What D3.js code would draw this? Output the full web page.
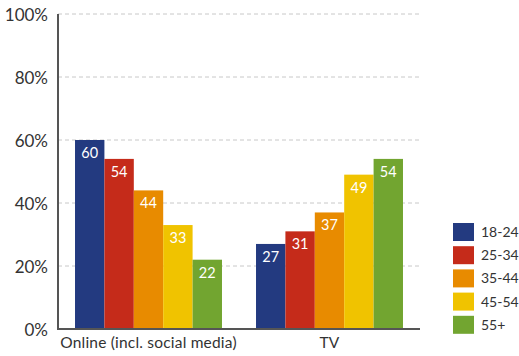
<!DOCTYPE html>
<html><head><meta charset="utf-8">
<script src="https://cdn.jsdelivr.net/npm/d3@7"></script>
<style>body{margin:0;background:#fff}svg{display:block}text{font-family:Lato,"Open Sans",sans-serif}</style>
</head><body><svg id="c" width="519" height="356"></svg>
<script>
const categories = ["Online (incl. social media)", "TV"];
const ageGroups = ["18-24", "25-34", "35-44", "45-54", "55+"];
const online = [60, 54, 44, 33, 22];
const tv = [27, 31, 37, 49, 54];
const yTicks = [0, 20, 40, 60, 80, 100];
const colors = ["#233a80", "#c52b1a", "#e88b00", "#f0c300", "#72a530"];

(function () {
const seriesByCat = [online, tv];
const data = categories.map((c, i) => ({cat: c, values: ageGroups.map((g, j) => ({g, v: seriesByCat[i][j]}))}));

const svg = d3.select("#c");
const mLeft = 58, mRight = 420, mTop = 14, mBottom = 329;
const y = d3.scaleLinear().domain([0, 100]).range([mBottom, mTop]);
const x0 = d3.scaleBand().domain(categories).range([mLeft, mRight]).paddingInner(0.188).paddingOuter(0.094);
const x1 = d3.scaleBand().domain(ageGroups).range([0, x0.bandwidth()]);
const color = d3.scaleOrdinal().domain(ageGroups).range(colors);

// grid
svg.append("g").selectAll("line").data(yTicks.filter(d => d > 0)).join("line")
  .attr("x1", mLeft).attr("x2", mRight).attr("y1", d => y(d)).attr("y2", d => y(d))
  .attr("stroke", "#c8c8c8").attr("stroke-width", 1).attr("stroke-dasharray", "4,3");

// y axis
const yAxis = svg.append("g").attr("transform", `translate(${mLeft},0)`)
  .call(d3.axisLeft(y).tickValues(yTicks).tickFormat(d => d + "%").tickSize(0).tickPadding(10));
yAxis.select(".domain").remove();
yAxis.selectAll("text").attr("font-size", 17).attr("fill", "#333").attr("dy", "0.36em");

// bars
const groups = svg.append("g").selectAll("g").data(data).join("g")
  .attr("transform", d => `translate(${x0(d.cat)},0)`);
groups.selectAll("rect").data(d => d.values).join("rect")
  .attr("x", d => x1(d.g)).attr("width", x1.bandwidth())
  .attr("y", d => y(d.v)).attr("height", d => y(0) - y(d.v))
  .attr("fill", d => color(d.g));
groups.selectAll("text").data(d => d.values).join("text")
  .attr("x", d => x1(d.g) + x1.bandwidth() / 2).attr("y", d => y(d.v) + 18)
  .attr("text-anchor", "middle").attr("font-size", 14.5).attr("fill", "#fff")
  .text(d => d.v);

// axis lines
svg.append("line").attr("x1", mLeft).attr("x2", mLeft).attr("y1", mTop).attr("y2", mBottom + 1)
  .attr("stroke", "#555").attr("stroke-width", 2);
svg.append("line").attr("x1", mLeft - 1).attr("x2", mRight).attr("y1", mBottom).attr("y2", mBottom)
  .attr("stroke", "#555").attr("stroke-width", 2);

// x axis labels
const xAxis = svg.append("g").attr("transform", `translate(0,${mBottom})`)
  .call(d3.axisBottom(x0).tickSize(0).tickPadding(8));
xAxis.select(".domain").remove();
xAxis.selectAll("text").attr("font-size", 15.5).attr("letter-spacing", "0.2px").attr("fill", "#333").attr("dy", "0.71em");

// legend
const legend = svg.append("g").attr("transform", "translate(453,223)");
const li = legend.selectAll("g").data(ageGroups).join("g").attr("transform", (d, i) => `translate(0,${i * 23.2})`);
li.append("rect").attr("width", 21).attr("height", 18).attr("fill", d => color(d));
li.append("text").attr("x", 28).attr("y", 9).attr("dy", "0.36em").attr("font-size", 14).attr("fill", "#333").text(d => d);
})();
</script></body></html>
